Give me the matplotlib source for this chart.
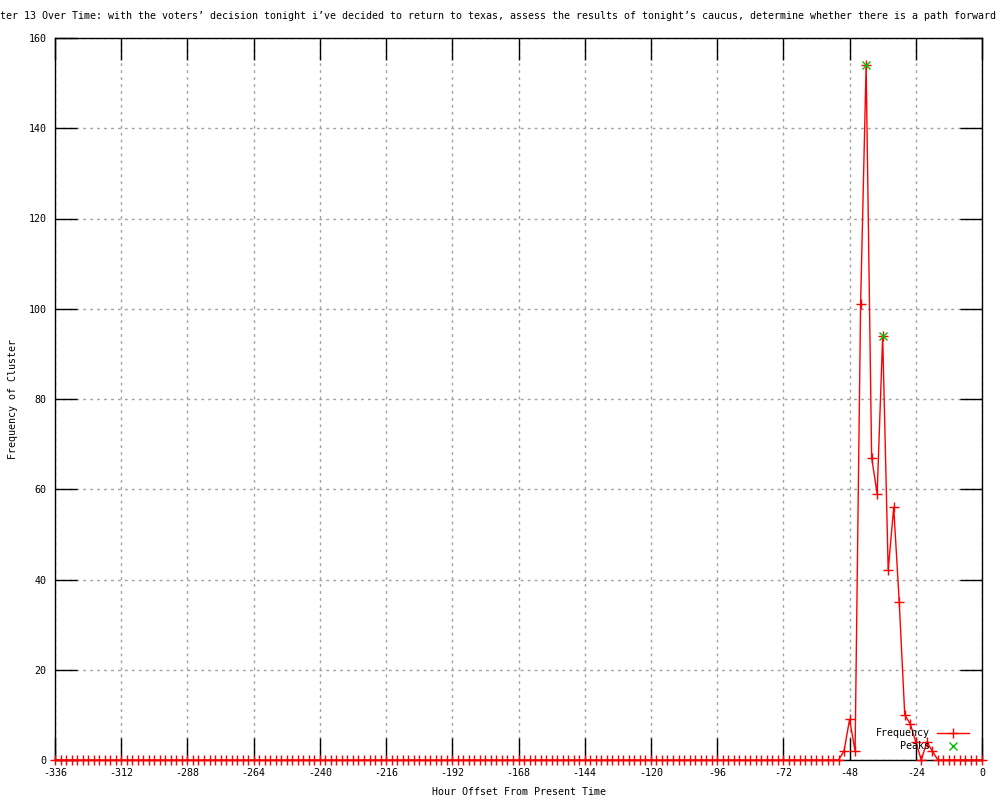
import numpy as np
import matplotlib
matplotlib.use("Agg")
import matplotlib.pyplot as plt

# --- Data (2-hour bins) ---
hours = list(range(-336, 1, 2))
nonzero = {
    -50: 2, -48: 9, -46: 2, -44: 101, -42: 154, -40: 67, -38: 59,
    -36: 94, -34: 42, -32: 56, -30: 35, -28: 10, -26: 8, -24: 4,
    -22: 0, -20: 4, -18: 2, -16: 0,
}
freq = [nonzero.get(h, 0) for h in hours]

peak_hours = [-42, -36]
peak_values = [154, 94]

x_ticks = list(range(-336, 1, 24))
y_ticks = list(range(0, 161, 20))

TITLE = ("Frequency of Cluster 13 Over Time: with the voters\u2019 decision tonight "
         "i\u2019ve decided to return to texas, assess the results of tonight\u2019s "
         "caucus, determine whether there is a path forward for myself in this race")

plt.rcParams['font.family'] = ['DejaVu Sans Mono']
plt.rcParams['font.size'] = 7.2
plt.rcParams['axes.unicode_minus'] = False

W, H = 1000, 800
fig = plt.figure(figsize=(10, 8), dpi=100)
L, R, T, B = 55, 982, 38, 760
ax = fig.add_axes([L / W, 1 - B / H, (R - L) / W, (B - T) / H])

ax.plot(hours, freq, color='red', lw=1, marker='+', markersize=7,
        markeredgewidth=1, clip_on=False, zorder=3)
ax.plot(peak_hours, peak_values, linestyle='none', marker='x', markersize=6,
        color='#00c000', markeredgewidth=1, clip_on=False, zorder=4)

ax.set_xlim(-336, 0)
ax.set_ylim(0, 160)
ax.set_xticks(x_ticks)
ax.set_yticks(y_ticks)
ax.tick_params(direction='in', length=16, width=1, top=True, right=True,
               labelsize=7.2, pad=6)
ax.grid(True, color='#a0a0a0', linestyle=(0, (2, 3)), linewidth=1)
for s in ax.spines.values():
    s.set_linewidth(1)
    s.set_color('black')

ax.set_xlabel("Hour Offset From Present Time", fontsize=7.2, labelpad=6)
ax.set_ylabel("Frequency of Cluster", fontsize=7.2, labelpad=8)

# title: left part runs off the canvas like the original
fig.text(-102 / W, 1 - 16 / H, TITLE, ha='left', va='center', fontsize=7.2)

# key in lower right
ax.text(0.944, 0.0374, "Frequency", transform=ax.transAxes, ha='right', va='center')
ax.text(0.944, 0.0194, "Peaks", transform=ax.transAxes, ha='right', va='center')
ax.plot([0.9515, 0.986], [0.0374, 0.0374], color='red', lw=1, transform=ax.transAxes)
ax.plot([0.9687], [0.0374], marker='+', color='red', markersize=7, transform=ax.transAxes)
ax.plot([0.9687], [0.0194], marker='x', color='#00c000', markersize=6,
        transform=ax.transAxes)

fig.savefig("out.png", dpi=100)
